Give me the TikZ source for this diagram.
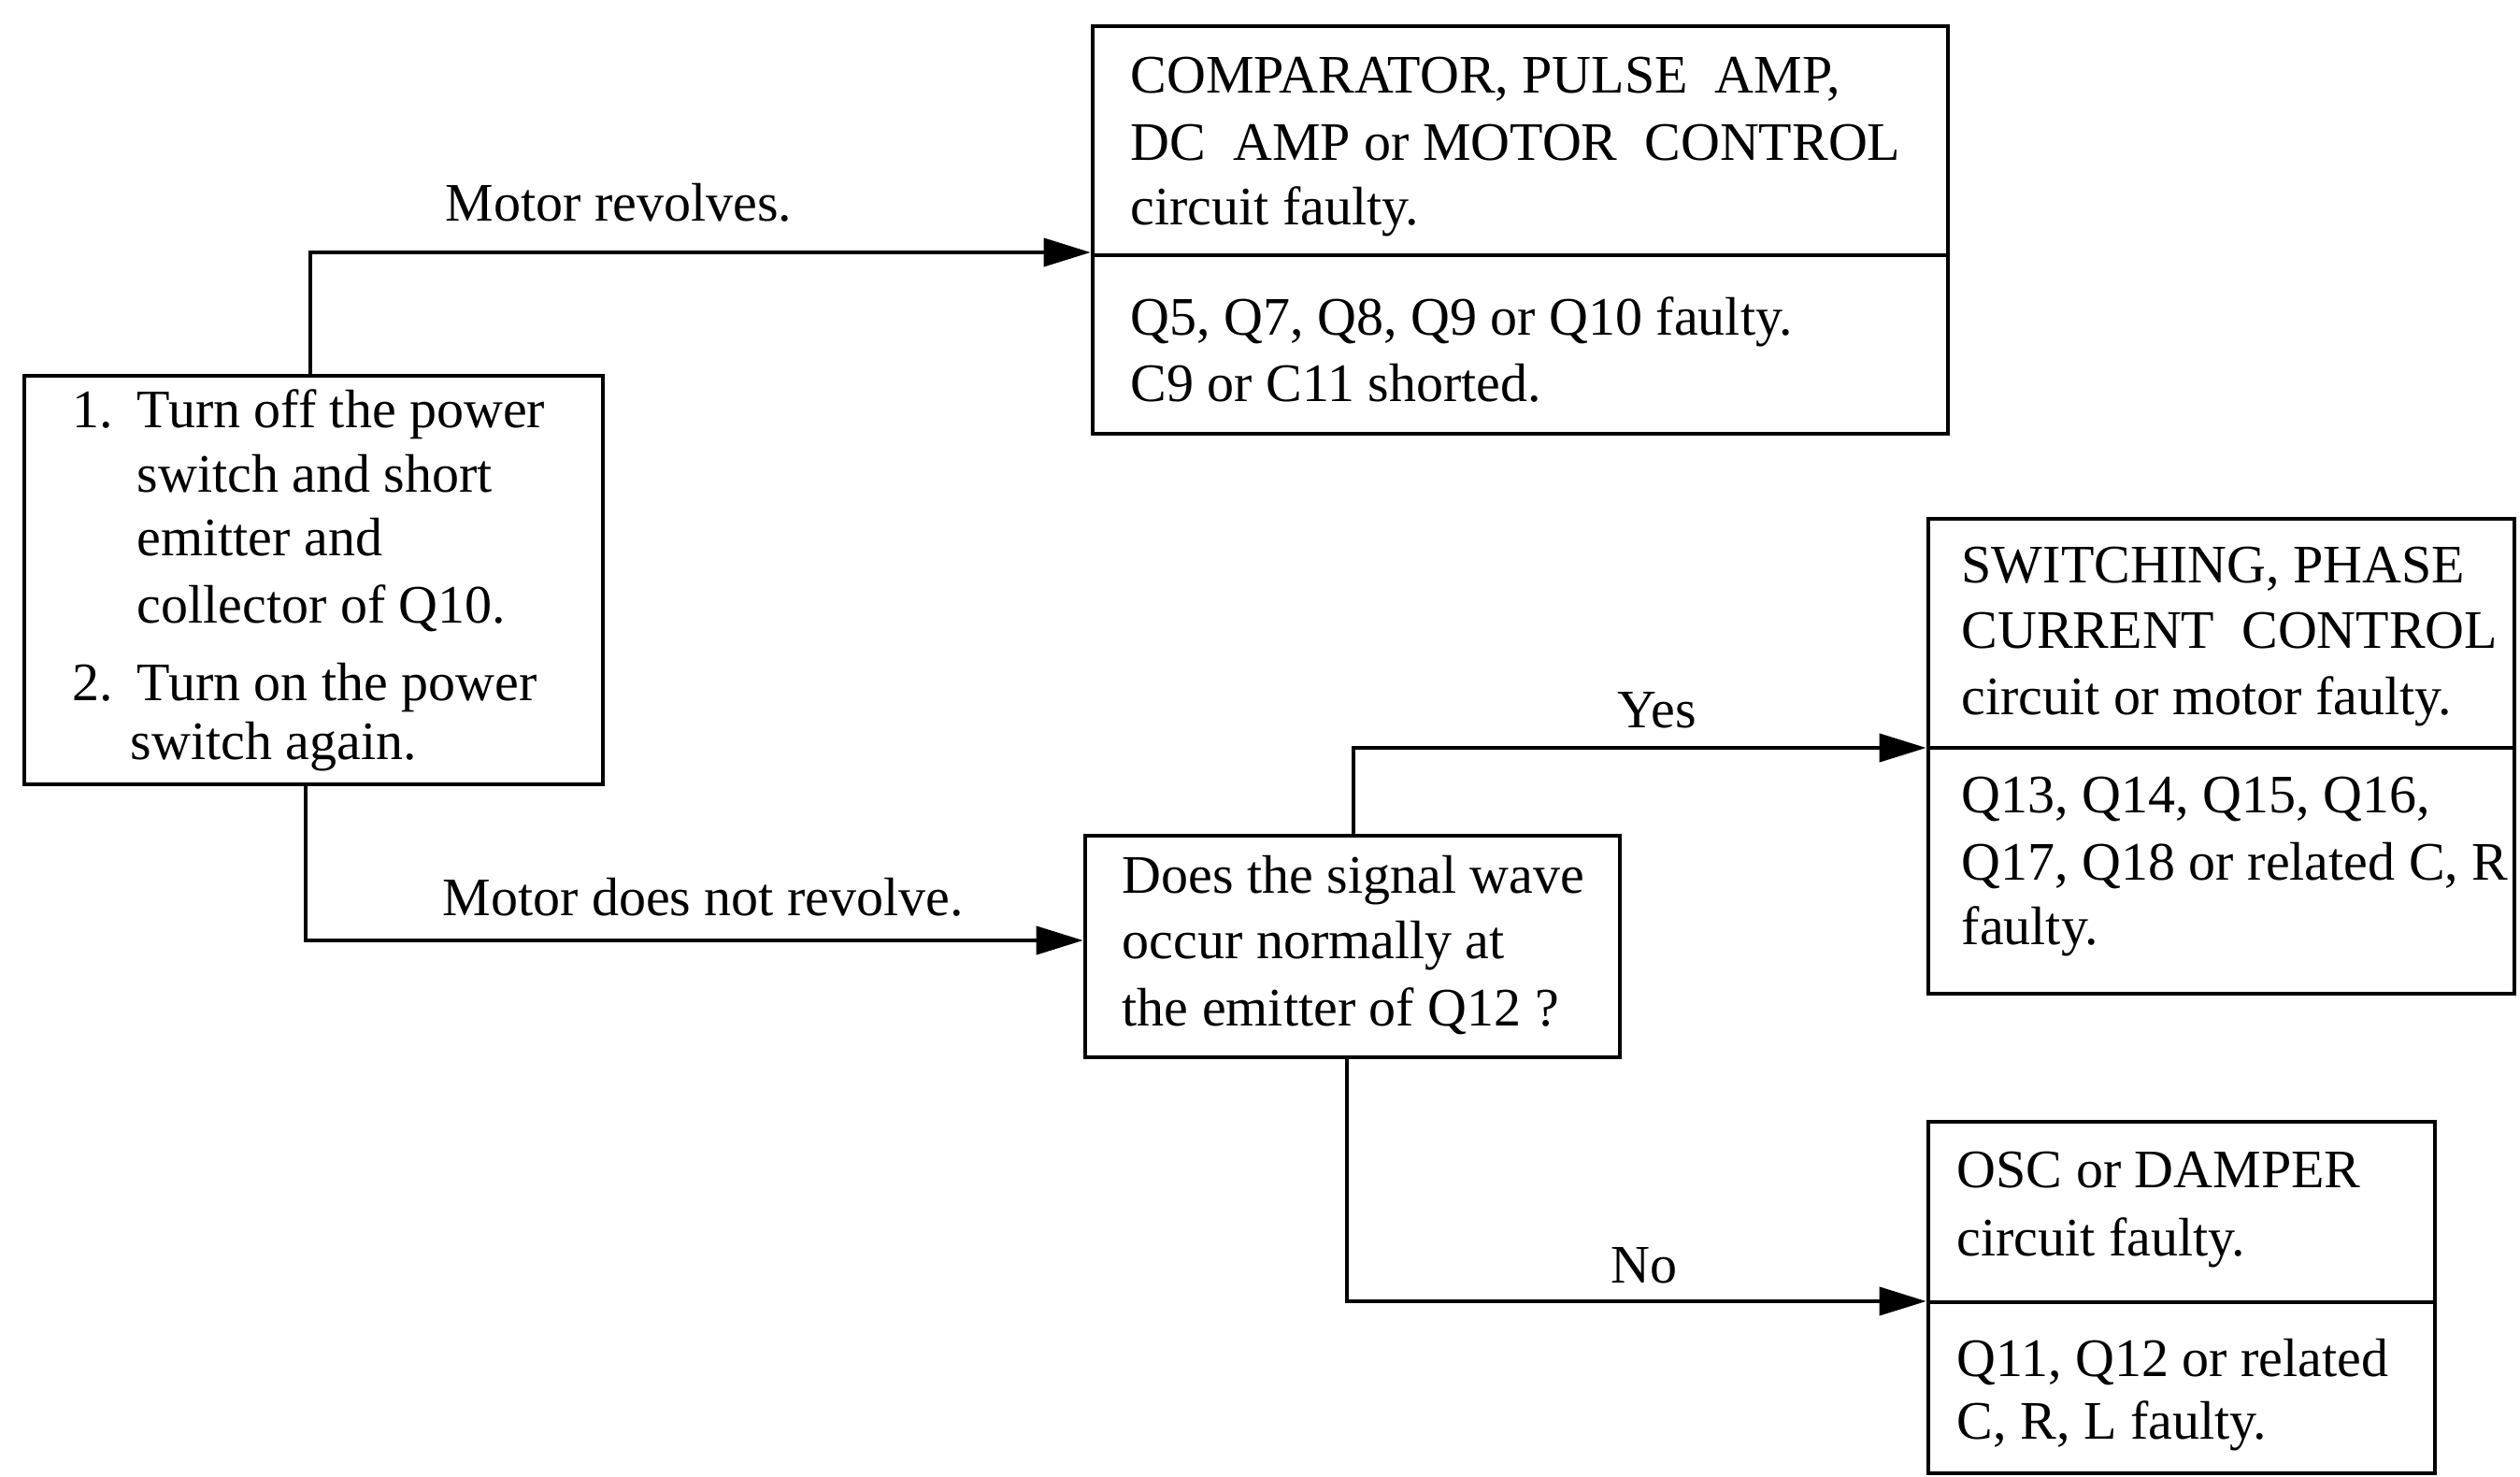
\documentclass[tikz,border=0pt]{standalone}
\usepackage{fontspec}
\setmainfont{Liberation Serif}
\usetikzlibrary{arrows.meta}
\tikzset{
  box/.style={draw, rectangle, line width=1.3pt, inner sep=0pt},
  divider/.style={line width=1.3pt},
  conn/.style={line width=1.1pt, -{Triangle[length=0.5cm,width=0.3cm]}},
  txt/.style={anchor=base west, inner sep=0pt, font=\fontsize{16.5}{20}\selectfont}
}
\begin{document}
\begin{tikzpicture}[x=1cm,y=1cm]
\useasboundingbox (0,0) rectangle (26.96,-15.80);
% boxes
\node[box, minimum width=6.19cm, minimum height=4.37cm] (L) at (3.355,-6.205) {};
\node[box, minimum width=9.15cm, minimum height=4.36cm] (T) at (16.265,-2.46) {};
\node[box, minimum width=5.72cm, minimum height=2.37cm] (Q) at (14.47,-10.125) {};
\node[box, minimum width=6.27cm, minimum height=5.08cm] (R1) at (23.765,-8.09) {};
\node[box, minimum width=5.42cm, minimum height=3.76cm] (R2) at (23.34,-13.88) {};
% dividers
\coordinate (dT) at (0,-2.73);
\coordinate (dR1) at (0,-8.00);
\coordinate (dR2) at (0,-13.93);
\draw[divider] (T.west |- dT) -- (T.east |- dT);
\draw[divider] (R1.west |- dR1) -- (R1.east |- dR1);
\draw[divider] (R2.west |- dR2) -- (R2.east |- dR2);
% connectors
\coordinate (c1) at (3.32,-2.70);
\coordinate (c2) at (3.27,-10.06);
\coordinate (c3) at (14.48,-8.00);
\coordinate (c4) at (14.41,-13.92);
\draw[conn] (L.north -| c1) |- (T.west |- c1);
\draw[conn] (L.south -| c2) |- (Q.west |- c2);
\draw[conn] (Q.north -| c3) |- (R1.west |- c3);
\draw[conn] (Q.south -| c4) |- (R2.west |- c4);
% connector labels
\node[txt] (l1) at (4.76,-2.37) {Motor revolves.};
\node[txt] (l2) at (4.73,-9.80) {Motor does not revolve.};
\node[txt] (l3) at (17.30,-7.79) {Yes};
\node[txt] (l4) at (17.23,-13.72) {No};
% left box text
\node[txt] (a1) at (0.77,-4.58) {1.};
\node[txt] (a2) at (1.46,-4.58) {Turn off the power};
\node[txt] (a3) at (1.46,-5.27) {switch and short};
\node[txt] (a4) at (1.46,-5.95) {emitter and};
\node[txt] (a5) at (1.46,-6.67) {collector of Q10.};
\node[txt] (a6) at (0.77,-7.50) {2.};
\node[txt] (a7) at (1.46,-7.50) {Turn on the power};
\node[txt] (a8) at (1.39,-8.13) {switch again.};
% top box text
\node[txt] (b1) at (12.09,-1.00) {COMPARATOR, PULSE~~AMP,};
\node[txt] (b2) at (12.09,-1.72) {DC~~AMP or MOTOR~~CONTROL};
\node[txt] (b3) at (12.09,-2.41) {circuit faulty.};
\node[txt] (b4) at (12.09,-3.59) {Q5, Q7, Q8, Q9 or Q10 faulty.};
\node[txt] (b5) at (12.09,-4.30) {C9 or C11 shorted.};
% question box text
\node[txt] (q1) at (12.00,-9.56) {Does the signal wave};
\node[txt] (q2) at (12.00,-10.26) {occur normally at};
\node[txt] (q3) at (12.00,-10.97) {the emitter of Q12 ?};
% right top box text
\node[txt] (r1) at (20.98,-6.24) {SWITCHING, PHASE};
\node[txt] (r2) at (20.98,-6.94) {CURRENT~~CONTROL};
\node[txt] (r3) at (20.98,-7.65) {circuit or motor faulty.};
\node[txt] (r4) at (20.98,-8.70) {Q13, Q14, Q15, Q16,};
\node[txt] (r5) at (20.98,-9.42) {Q17, Q18 or related C, R};
\node[txt] (r6) at (20.98,-10.11) {faulty.};
% right bottom box text
\node[txt] (s1) at (20.93,-12.70) {OSC or DAMPER};
\node[txt] (s2) at (20.93,-13.43) {circuit faulty.};
\node[txt] (s3) at (20.93,-14.72) {Q11, Q12 or related};
\node[txt] (s4) at (20.93,-15.39) {C, R, L faulty.};
\end{tikzpicture}
\end{document}
